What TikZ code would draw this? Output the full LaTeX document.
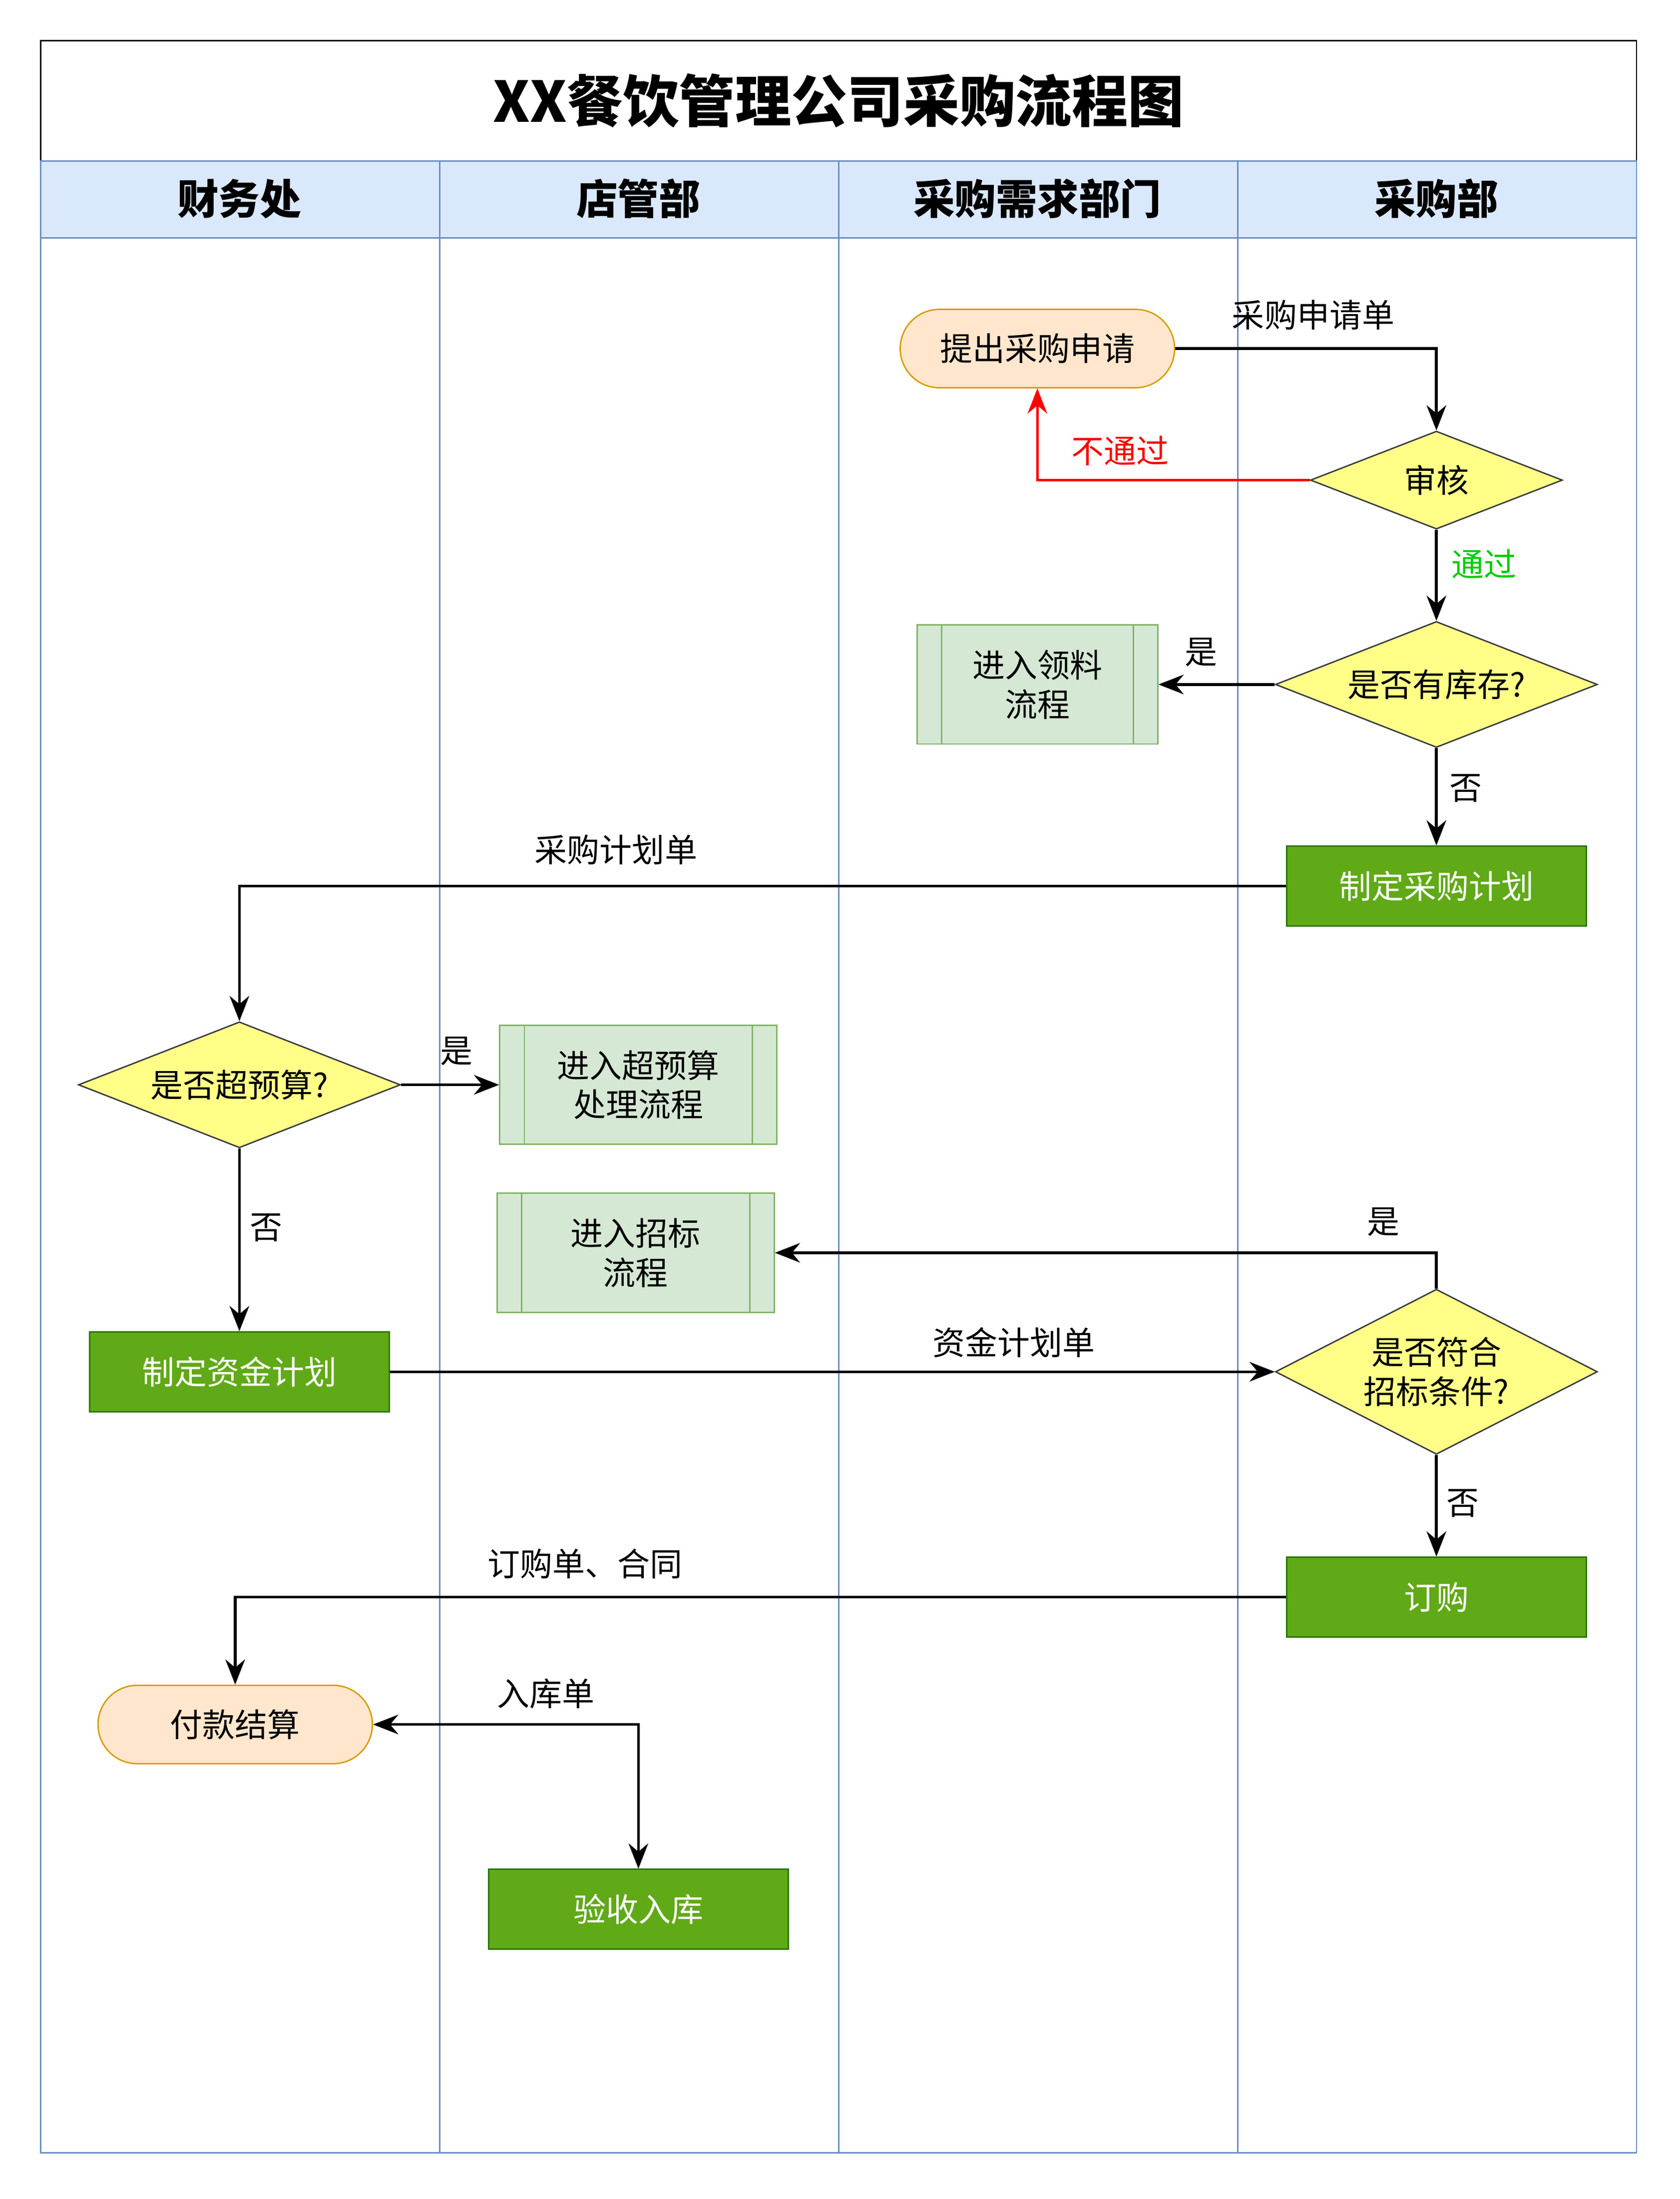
\documentclass[tikz,border=0pt]{standalone}
\usepackage{fontspec}
\setmainfont{Noto Sans CJK SC}
\usetikzlibrary{arrows.meta,shapes.geometric}
\definecolor{HeadFill}{HTML}{DAE8FC}
\definecolor{HeadLine}{HTML}{6C8EBF}
\definecolor{TermFill}{HTML}{FFE6CC}
\definecolor{TermLine}{HTML}{D79B00}
\definecolor{DecFill}{HTML}{FFFF88}
\definecolor{DecLine}{HTML}{36393D}
\definecolor{SubFill}{HTML}{D5E8D4}
\definecolor{SubLine}{HTML}{82B366}
\definecolor{ActFill}{HTML}{60A917}
\definecolor{ActLine}{HTML}{2D7600}
\definecolor{NoRed}{HTML}{FF0000}
\definecolor{YesGreen}{HTML}{00CC00}
\begin{document}
\begin{tikzpicture}[x=0.05cm,y=-0.05cm,
  txt/.style={font=\fontsize{33}{40}\selectfont},
  term/.style={txt,rounded corners=1.4cm,draw=TermLine,fill=TermFill,line width=1.4pt,minimum width=9.8cm,minimum height=2.8cm},
  dec/.style={txt,diamond,draw=DecLine,fill=DecFill,line width=1.4pt,inner sep=0pt,align=center},
  sub/.style={txt,draw=SubLine,fill=SubFill,line width=1.4pt,minimum width=9.9cm,minimum height=4.25cm,align=center},
  act/.style={txt,draw=ActLine,fill=ActFill,text=white,line width=1.4pt,minimum width=10.7cm,minimum height=2.85cm},
  flow/.style={line width=2.8pt,-{Stealth[length=0.9cm,width=0.7cm]}},
  lbl/.style={txt}
]
\fill[white] (0,0) rectangle (1200,1571);
\useasboundingbox (0,0) rectangle (1200,1571);
% frame, title, header
\draw[line width=1.4pt] (29,29) rectangle (1169,115);
\node[font=\fontsize{57}{66}\selectfont\bfseries] (title) at (599,72) {XX餐饮管理公司采购流程图};
\fill[HeadFill] (29,115) rectangle (1169,170);
\draw[HeadLine,line width=1.4pt] (29,115) rectangle (1169,1538);
\draw[HeadLine,line width=1.4pt] (29,170) -- (1169,170);
\foreach \xx in {314,599,884} \draw[HeadLine,line width=1.4pt] (\xx,115) -- (\xx,1538);
\node[font=\fontsize{42}{50}\selectfont\bfseries] (h1) at (171,142) {财务处};
\node[font=\fontsize{42}{50}\selectfont\bfseries] (h2) at (456,142) {店管部};
\node[font=\fontsize{42}{50}\selectfont\bfseries] (h3) at (741,142) {采购需求部门};
\node[font=\fontsize{42}{50}\selectfont\bfseries] (h4) at (1026,142) {采购部};
% nodes
\node[term] (apply) at (741,249) {提出采购申请};
\node[dec,minimum width=9cm,minimum height=3.5cm,shape aspect=2.6] (audit) at (1026,343) {审核};
\node[dec,minimum width=11.5cm,minimum height=4.5cm,shape aspect=2.55] (stock) at (1026,489) {是否有库存?};
\node[sub,minimum width=8.6cm] (pick) at (741,489) {进入领料\\流程};
\node[act] (plan) at (1026,633) {制定采购计划};
\node[dec,minimum width=11.5cm,minimum height=4.5cm,shape aspect=2.55] (budget) at (171,775) {是否超预算?};
\node[sub] (over) at (456,775) {进入超预算\\处理流程};
\node[sub] (bid) at (454,895) {进入招标\\流程};
\node[act] (fund) at (171,980) {制定资金计划};
\node[dec,minimum width=11.5cm,minimum height=5.9cm,shape aspect=1.95] (cond) at (1026,980) {是否符合\\招标条件?};
\node[act] (order) at (1026,1141) {订购};
\node[term] (pay) at (168,1232) {付款结算};
\node[act] (store) at (456,1364) {验收入库};
% side bars of sub-process boxes
\foreach \n in {pick,over,bid}{
  \draw[SubLine,line width=1.4pt] ([xshift=0.9cm]\n.north west) -- ([xshift=0.9cm]\n.south west);
  \draw[SubLine,line width=1.4pt] ([xshift=-0.9cm]\n.north east) -- ([xshift=-0.9cm]\n.south east);
}
% connectors
\draw[flow] (apply.east) -| (audit.north);
\node[lbl] (l1) at (938,225) {采购申请单};
\draw[flow,NoRed] (audit.west) -| (apply.south);
\node[lbl,text=NoRed] (l2) at (800,322) {不通过};
\draw[flow] (audit.south) -- (stock.north);
\node[lbl,text=YesGreen] (l3) at (1060,403) {通过};
\draw[flow] (stock.west) -- (pick.east);
\node[lbl] (l4) at (858,466) {是};
\draw[flow] (stock.south) -- (plan.north);
\node[lbl] (l5) at (1047,563) {否};
\draw[flow] (plan.west) -| (budget.north);
\node[lbl] (l6) at (440,607) {采购计划单};
\draw[flow] (budget.east) -- (over.west);
\node[lbl] (l7) at (326,751) {是};
\draw[flow] (budget.south) -- (fund.north);
\node[lbl] (l8) at (190,877) {否};
\draw[flow] (fund.east) -- (cond.west);
\node[lbl] (l9) at (724,959) {资金计划单};
\draw[flow] (cond.north) |- (bid.east);
\node[lbl] (l10) at (988,873) {是};
\draw[flow] (cond.south) -- (order.north);
\node[lbl] (l11) at (1045,1074) {否};
\draw[flow] (order.west) -| (pay.north);
\node[lbl] (l12) at (418,1117) {订购单、合同};
\draw[line width=2.8pt,{Stealth[length=0.9cm,width=0.7cm]}-{Stealth[length=0.9cm,width=0.7cm]}] (pay.east) -| (store.north);
\node[lbl] (l13) at (390,1210) {入库单};
\end{tikzpicture}
\end{document}
